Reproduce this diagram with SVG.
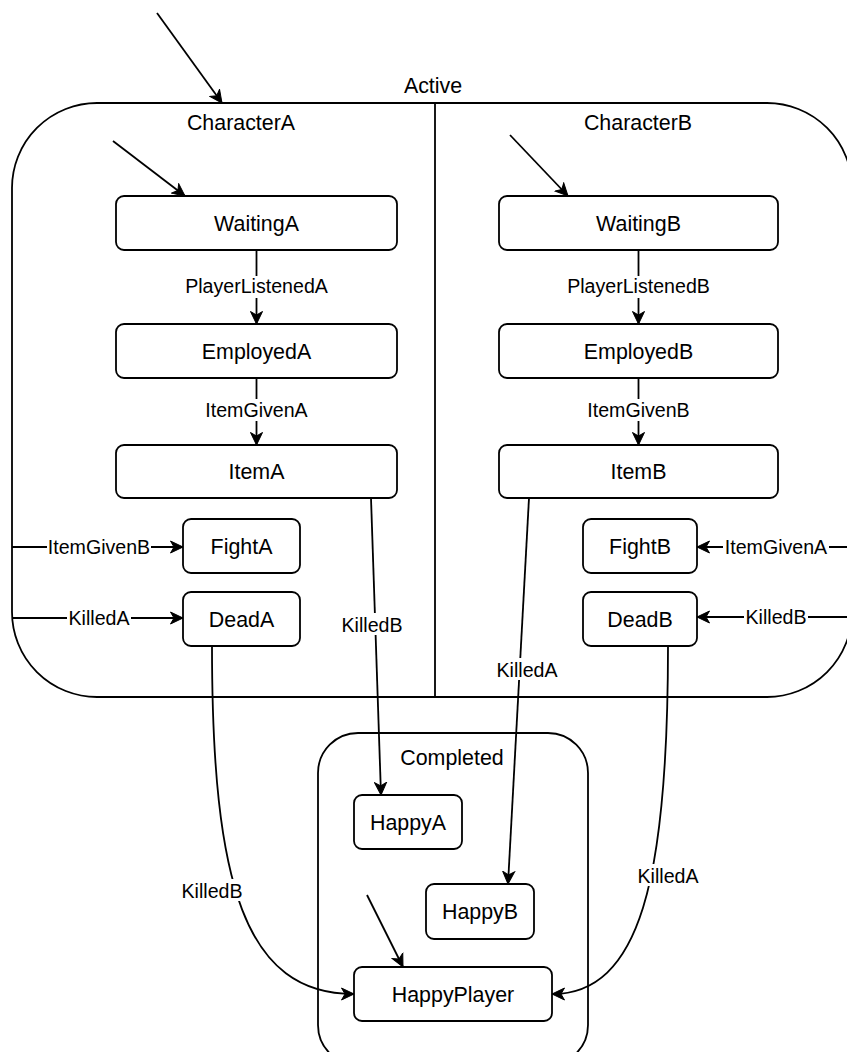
<svg xmlns="http://www.w3.org/2000/svg" width="847" height="1052" viewBox="0 0 847 1052">
<style>
.box{fill:#fff;stroke:#000;stroke-width:1.8}
.cont{fill:none;stroke:#000;stroke-width:1.8}
.e{fill:none;stroke:#000;stroke-width:1.8}
.t{font-family:"Liberation Sans",Arial,sans-serif;font-size:21.4px;fill:#000;text-anchor:middle}
.l{font-family:"Liberation Sans",Arial,sans-serif;font-size:19.6px;fill:#000;text-anchor:middle}
.bg{fill:#fff;stroke:none}
</style>
<defs>
<marker id="arr" viewBox="0 0 14 14" markerWidth="14" markerHeight="14" refX="13" refY="7" orient="auto" markerUnits="userSpaceOnUse">
<path d="M0.5,1 L13,7 L0.5,13 L4,7 Z" fill="#000" stroke="#000" stroke-width="1"/>
</marker>
</defs>
<rect x="0" y="0" width="847" height="1052" fill="#fff"/>
<g id="Active">
<rect class="cont" x="12" y="103" width="840" height="594" rx="85" ry="85"/>
<line class="cont" x1="435" y1="103" x2="435" y2="697"/>
<text class="t" x="433" y="93">Active</text>
</g>
<g id="CharacterA"><text class="t" x="241" y="130">CharacterA</text></g>
<g id="CharacterB"><text class="t" x="638" y="130">CharacterB</text></g>
<g id="Completed">
<rect class="cont" x="318" y="733" width="270" height="332" rx="40" ry="40"/>
<text class="t" x="452" y="765">Completed</text>
</g>
<g id="WaitingA"><rect class="box" x="116" y="196" width="281" height="54" rx="8"/><text class="t" x="256.5" y="230.7">WaitingA</text></g>
<g id="EmployedA"><rect class="box" x="116" y="324" width="281" height="54" rx="8"/><text class="t" x="256.5" y="358.7">EmployedA</text></g>
<g id="ItemA"><rect class="box" x="116" y="445" width="281" height="53" rx="8"/><text class="t" x="256.5" y="479">ItemA</text></g>
<g id="FightA"><rect class="box" x="183" y="519" width="117" height="54" rx="8"/><text class="t" x="241.5" y="553.7">FightA</text></g>
<g id="DeadA"><rect class="box" x="183" y="592" width="117" height="54" rx="8"/><text class="t" x="241.5" y="626.7">DeadA</text></g>
<g id="WaitingB"><rect class="box" x="499" y="196" width="279" height="54" rx="8"/><text class="t" x="638.5" y="230.7">WaitingB</text></g>
<g id="EmployedB"><rect class="box" x="499" y="324" width="279" height="54" rx="8"/><text class="t" x="638.5" y="358.7">EmployedB</text></g>
<g id="ItemB"><rect class="box" x="499" y="445" width="279" height="53" rx="8"/><text class="t" x="638.5" y="479">ItemB</text></g>
<g id="FightB"><rect class="box" x="583" y="519" width="114" height="54" rx="8"/><text class="t" x="640" y="553.7">FightB</text></g>
<g id="DeadB"><rect class="box" x="583" y="592" width="114" height="54" rx="8"/><text class="t" x="640" y="626.7">DeadB</text></g>
<g id="HappyA"><rect class="box" x="354" y="795" width="108" height="54" rx="8"/><text class="t" x="408" y="829.7">HappyA</text></g>
<g id="HappyB"><rect class="box" x="426" y="884" width="108" height="55" rx="8"/><text class="t" x="480" y="919.2">HappyB</text></g>
<g id="HappyPlayer"><rect class="box" x="354" y="967" width="198" height="54" rx="8"/><text class="t" x="453" y="1001.7">HappyPlayer</text></g>
<g id="connectors">
<path class="e" d="M157,13 L222,103" marker-end="url(#arr)"/>
<path class="e" d="M113,141 L185,196" marker-end="url(#arr)"/>
<path class="e" d="M510,135 L568,196" marker-end="url(#arr)"/>
<path class="e" d="M367,895 L403,967" marker-end="url(#arr)"/>
<path class="e" d="M256.5,250 L256.5,324" marker-end="url(#arr)"/>
<path class="e" d="M256.5,378 L256.5,445" marker-end="url(#arr)"/>
<path class="e" d="M638.5,250 L638.5,324" marker-end="url(#arr)"/>
<path class="e" d="M638.5,378 L638.5,445" marker-end="url(#arr)"/>
<path class="e" d="M371,498 L381,795" marker-end="url(#arr)"/>
<path class="e" d="M529,498 L508,884" marker-end="url(#arr)"/>
<path class="e" d="M12,547 L183,547" marker-end="url(#arr)"/>
<path class="e" d="M12,618 L183,618" marker-end="url(#arr)"/>
<path class="e" d="M852,547 L697,547" marker-end="url(#arr)"/>
<path class="e" d="M852,617 L697,617" marker-end="url(#arr)"/>
<path class="e" d="M212,646 C212,885 245,994 354,994" marker-end="url(#arr)"/>
<path class="e" d="M668,646 C668,880 640,994 552,994" marker-end="url(#arr)"/>
<rect class="bg" x="184" y="276" width="145" height="22"/>
<text class="l" x="256.5" y="293">PlayerListenedA</text>
<rect class="bg" x="205" y="399" width="104" height="22"/>
<text class="l" x="256.5" y="417">ItemGivenA</text>
<rect class="bg" x="566" y="276" width="145" height="22"/>
<text class="l" x="638.5" y="293">PlayerListenedB</text>
<rect class="bg" x="587" y="399" width="104" height="22"/>
<text class="l" x="638.5" y="417">ItemGivenB</text>
<rect class="bg" x="341" y="613" width="62" height="22"/>
<text class="l" x="372" y="632">KilledB</text>
<rect class="bg" x="496" y="658" width="62" height="22"/>
<text class="l" x="527" y="677">KilledA</text>
<rect class="bg" x="47" y="536" width="104" height="22"/>
<text class="l" x="99" y="554">ItemGivenB</text>
<rect class="bg" x="67" y="607" width="64" height="22"/>
<text class="l" x="99" y="625">KilledA</text>
<rect class="bg" x="723" y="536" width="106" height="22"/>
<text class="l" x="776" y="554">ItemGivenA</text>
<rect class="bg" x="744" y="606" width="64" height="22"/>
<text class="l" x="776" y="624">KilledB</text>
<rect class="bg" x="181" y="879" width="62" height="22"/>
<text class="l" x="212" y="898">KilledB</text>
<rect class="bg" x="637" y="864" width="62" height="22"/>
<text class="l" x="668" y="883">KilledA</text>
</g>
</svg>
